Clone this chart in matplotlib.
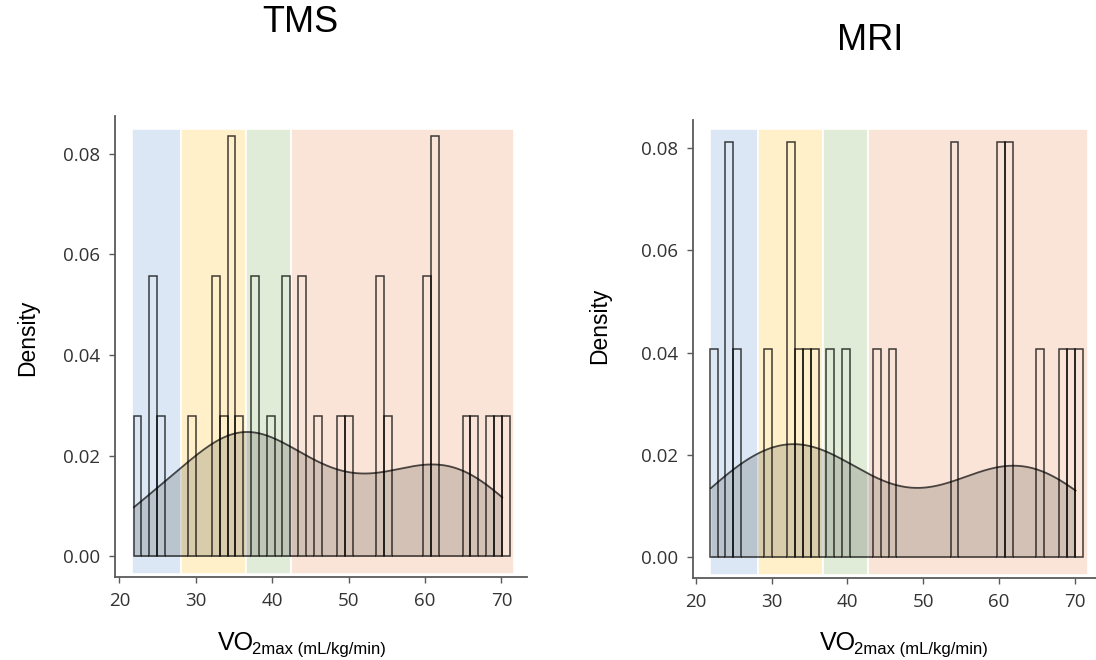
import matplotlib.pyplot as plt
import numpy as np
from matplotlib.patches import Rectangle

# VO2max values
tms_vo2 = [21.9, 24.2, 24.6, 25.4, 29.5, 32.4, 32.9, 33.6, 34.4, 34.7, 35.0,
           35.7, 37.5, 37.9, 39.8, 41.6, 42.0, 43.7, 44.1, 45.9, 49.0, 50.0,
           53.9, 54.3, 55.1, 60.0, 60.5, 61.0, 61.3, 61.6, 65.4, 66.4, 68.5,
           69.5, 70.1]
mri_vo2 = [22.0, 24.2, 24.6, 25.4, 29.5, 32.4, 32.9, 33.6, 34.6, 35.7, 37.6,
           39.7, 43.8, 45.9, 53.9, 54.3, 60.0, 60.5, 61.0, 61.4, 65.4, 68.5,
           69.5, 70.1]

# fitness category bands (blue, yellow, green, peach)
band_colors = ['#dbe7f4', '#fff0c9', '#e1ecd8', '#fae3d7']
tms_band_edges = [21.7, 28.0, 36.5, 42.4, 71.7]
mri_band_edges = [21.85, 28.15, 36.8, 42.75, 71.7]

x_ticks = [20, 30, 40, 50, 60, 70]
y_ticks = [0.00, 0.02, 0.04, 0.06, 0.08]


def kde(values, grid, bw):
    values = np.asarray(values)
    z = (grid[:, None] - values[None, :]) / bw
    return np.exp(-0.5 * z ** 2).sum(axis=1) / (len(values) * bw * np.sqrt(2 * np.pi))


def draw_panel(ax, values, band_edges, band_top, bw, xlim, ylim):
    for i, col in enumerate(band_colors):
        ax.add_patch(Rectangle((band_edges[i], -0.0035), band_edges[i + 1] - band_edges[i],
                               band_top + 0.0035, facecolor=col, edgecolor='white',
                               linewidth=1.2, zorder=0))
    ax.hist(values, bins=48, range=(21.85, 71.06), density=True, fill=False,
            edgecolor=(0, 0, 0, 0.75), linewidth=1.1, zorder=2)
    grid = np.linspace(min(values), max(values), 400)
    dens = kde(values, grid, bw)
    ax.fill_between(grid, 0, dens, color=(0, 0, 0, 0.15), linewidth=0, zorder=3)
    ax.plot(grid, dens, color=(0, 0, 0, 0.7), linewidth=1.3, zorder=4)

    ax.set_xlim(*xlim)
    ax.set_ylim(*ylim)
    ax.set_xticks(x_ticks)
    ax.set_yticks(y_ticks)
    ax.set_yticklabels([f'{t:.2f}' for t in y_ticks])
    for s in ['top', 'right']:
        ax.spines[s].set_visible(False)
    for s in ['left', 'bottom']:
        ax.spines[s].set_color('#5a5a5a')
        ax.spines[s].set_linewidth(1.3)
    ax.tick_params(length=4, width=1.0, color='#5a5a5a', labelcolor='#333333',
                   labelsize=13.5, pad=7)
    for lab in ax.get_xticklabels() + ax.get_yticklabels():
        lab.set_family('Open Sans')
    ax.set_ylabel('Density', family='Liberation Sans', fontsize=16.5)


fig = plt.figure(figsize=(10.96, 6.6), dpi=100)
ax1 = fig.add_axes([0.1049, 0.1258, 0.3756, 0.6985])
ax2 = fig.add_axes([0.6326, 0.1247, 0.3674, 0.6935])

draw_panel(ax1, tms_vo2, tms_band_edges, 0.085, 6.0, (19.41, 73.3), (-0.0041, 0.0875))
draw_panel(ax2, mri_vo2, mri_band_edges, 0.0837, 7.4, (19.68, 72.8), (-0.00405, 0.0855))
ax1.yaxis.set_label_coords(-0.185, 0.518)
ax2.yaxis.set_label_coords(-0.205, 0.55)

fig.text(300.7 / 1096, 1 - 22 / 660, 'TMS', ha='center', va='center',
         family='Liberation Sans', fontsize=26)
fig.text(870 / 1096, 1 - 40 / 660, 'MRI', ha='center', va='center',
         family='Liberation Sans', fontsize=26)

# x label: VO with "2max (mL/kg/min)" set as subscript
for x0 in [218, 820]:
    vo = fig.text(x0 / 1096, 1 - 655 / 660, 'VO', ha='left', va='bottom',
                  family='Liberation Sans', fontsize=18)
    plt.annotate('2max (mL/kg/min)', xy=(1, 0), xycoords=vo, xytext=(-1.5, -1.5),
                 textcoords='offset points', ha='left', va='bottom',
                 family='Liberation Sans', fontsize=12)

fig.savefig('out.png', dpi=100)
